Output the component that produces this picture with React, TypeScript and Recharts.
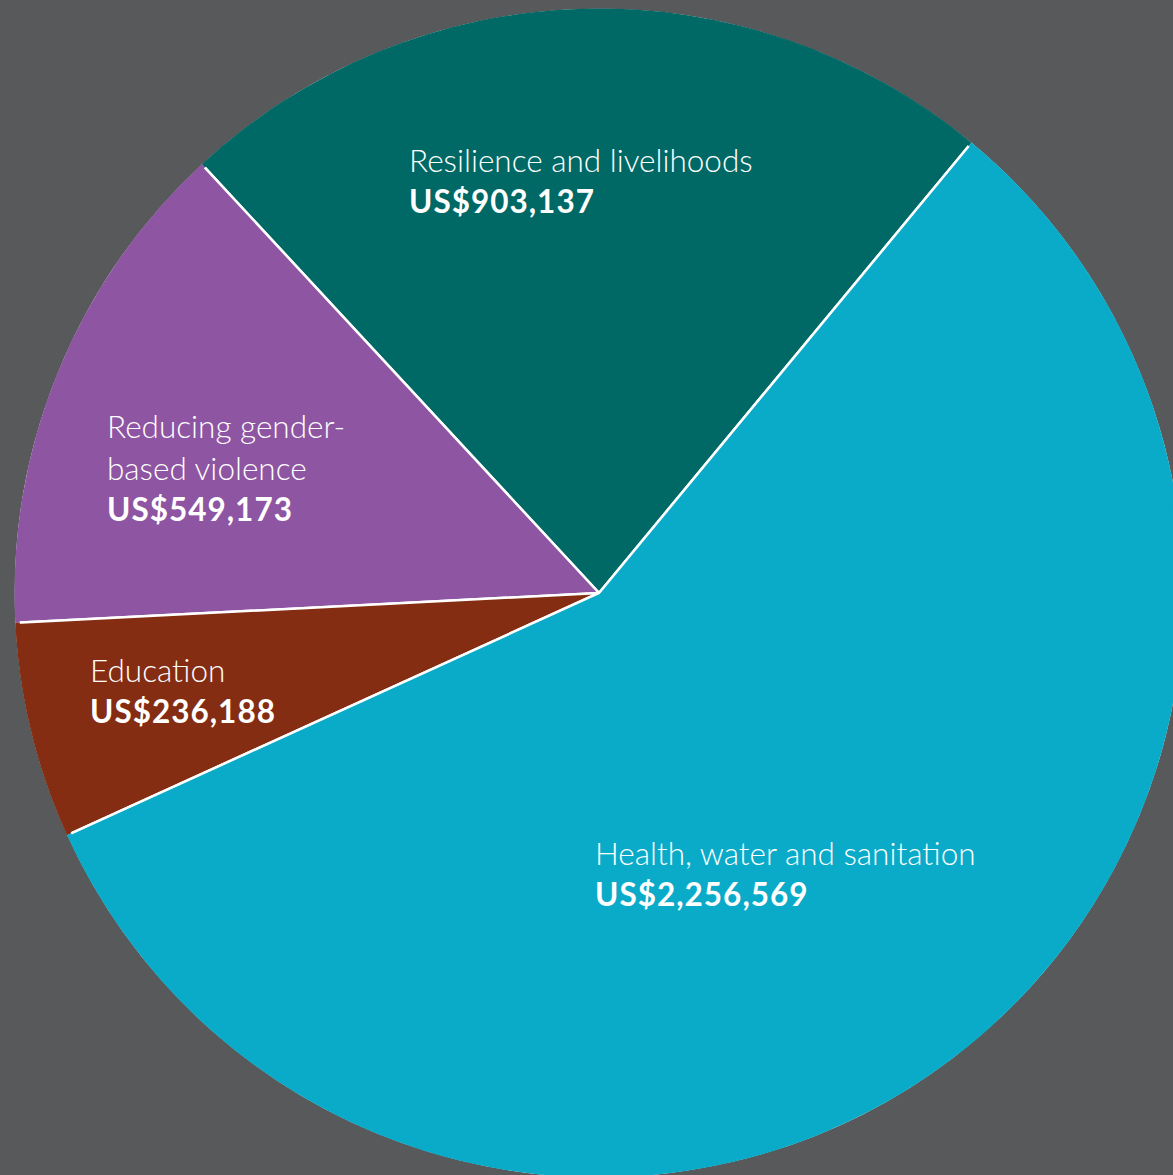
import { PieChart, Pie, Cell } from 'recharts'

const categories = ['Resilience and livelihoods', 'Reducing gender-based violence', 'Education', 'Health, water and sanitation']
const amounts = [903137, 549173, 236188, 2256569]
const labelLines = [
  ['Resilience and livelihoods'],
  ['Reducing gender-', 'based violence'],
  ['Education'],
  ['Health, water and sanitation'],
]

const COLORS = ['#006966', '#8e55a2', '#842d12', '#0aabc9']
// label anchor, offset from pie centre (px)
const LABEL_POS = [
  { dx: -190, dy: -421 },
  { dx: -492, dy: -155 },
  { dx: -509, dy: 89 },
  { dx: -4, dy: 272 },
]

const FONT = 'Lato, "Open Sans", sans-serif'
const BG = '#58595b'
const CX = 599
const CY = 593
const R = 583
const START = 50.4

const data = categories.map((name, i) => ({ name, value: amounts[i] }))

const fmt = (v: number) => 'US$' + v.toLocaleString('en-US')

function renderLabel(props: any) {
  const { cx, cy, index } = props
  const p = LABEL_POS[index]
  const lines = labelLines[index]
  const x = cx + p.dx
  const y = cy + p.dy
  return (
    <text x={x} y={y} fill="#ffffff" fontFamily={FONT} fontSize={31.5} textAnchor="start">
      {lines.map((l, i) => (
        <tspan key={i} x={x} dy={i === 0 ? 0 : 42} fontWeight={300}>{l}</tspan>
      ))}
      <tspan x={x} dy={41} fontWeight={700} letterSpacing={1}>{fmt(amounts[index])}</tspan>
    </text>
  )
}

export default function App() {
  return (
    <div style={{ position: 'absolute', left: 0, top: 0, width: 1173, height: 1175, background: BG, overflow: 'hidden' }}>
      <PieChart width={1173} height={1175} margin={{ top: 0, right: 0, bottom: 0, left: 0 }}>
        <Pie
          data={data}
          dataKey="value"
          nameKey="name"
          cx={CX}
          cy={CY}
          innerRadius={0}
          outerRadius={R}
          startAngle={START}
          endAngle={START + 360}
          stroke="#ffffff"
          strokeWidth={2.5}
          labelLine={false}
          isAnimationActive={false}
        >
          {data.map((d, i) => <Cell key={d.name} fill={COLORS[i]} />)}
        </Pie>
        {/* rim cover: hides the white outline on the outer edge */}
        <Pie
          data={data}
          dataKey="value"
          nameKey="name"
          cx={CX}
          cy={CY}
          innerRadius={R - 3}
          outerRadius={R + 1.5}
          startAngle={START}
          endAngle={START + 360}
          stroke="none"
          label={renderLabel}
          labelLine={false}
          isAnimationActive={false}
        >
          {data.map((d, i) => <Cell key={d.name} fill={COLORS[i]} />)}
        </Pie>
      </PieChart>
    </div>
  )
}
